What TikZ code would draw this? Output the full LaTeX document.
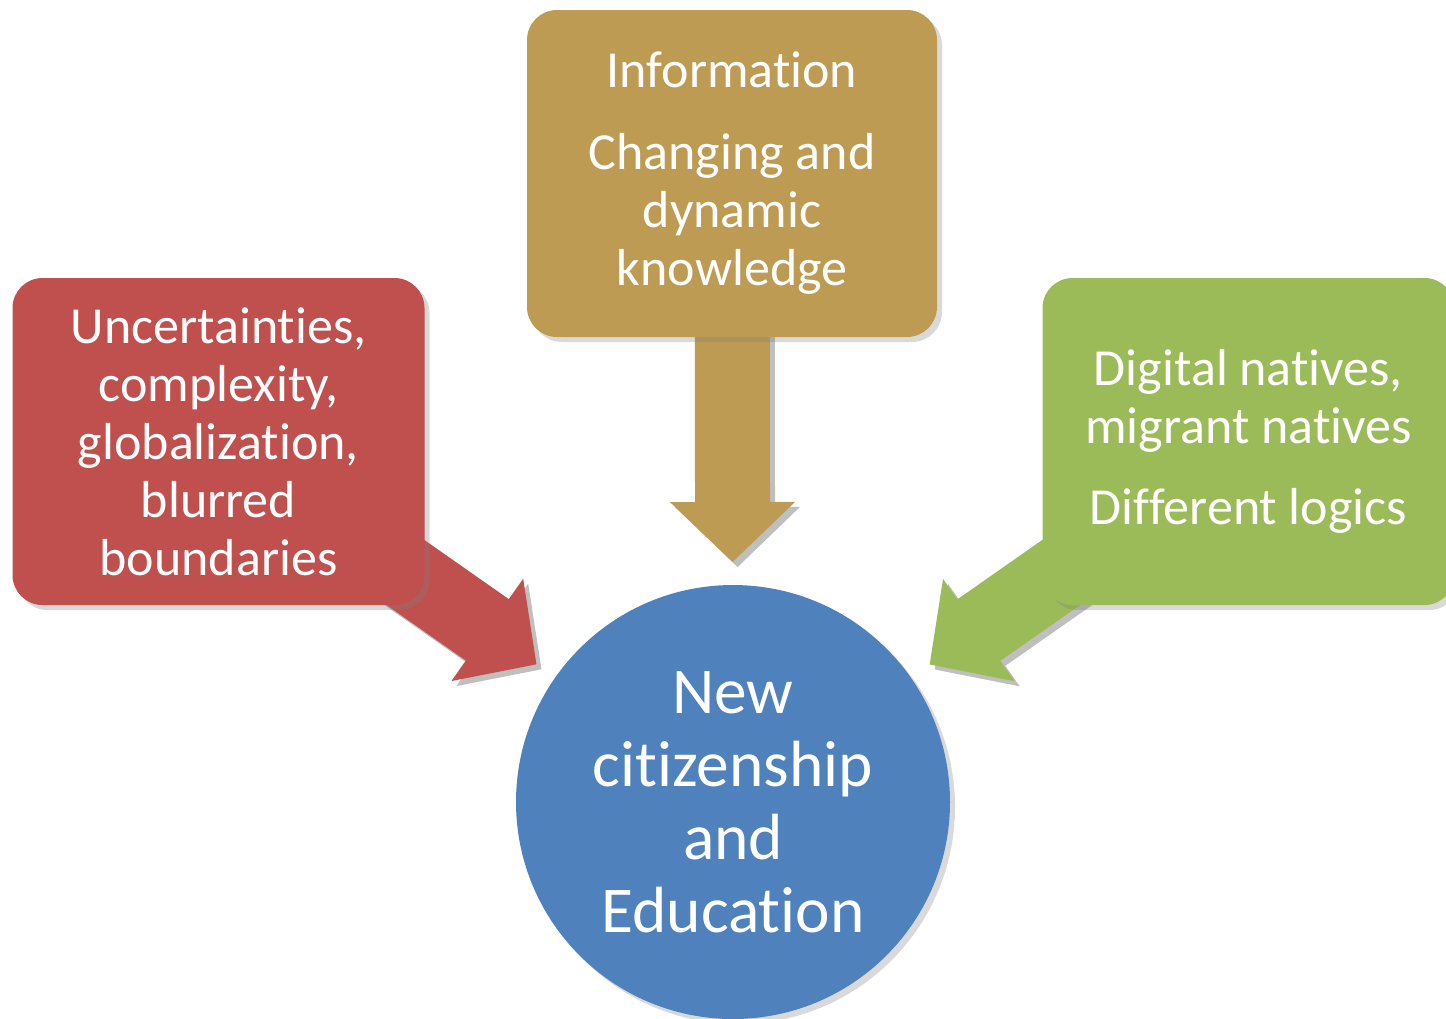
\documentclass[tikz,border=0pt]{standalone}
\usepackage{fontspec}
\setmainfont{Carlito}[RawFeature=-liga]
\usetikzlibrary{calc,shadows,backgrounds}

\definecolor{boxred}{HTML}{C0504D}
\definecolor{boxgold}{HTML}{BE9B53}
\definecolor{boxgreen}{HTML}{9BBB59}
\definecolor{hubblue}{HTML}{4F81BD}

\tikzset{
  topic/.style={rectangle, rounded corners=0.3cm, minimum width=4.12cm,
    minimum height=3.27cm, inner sep=0pt, text=white, align=center,
    font=\fontsize{14.8}{16.5}\selectfont,
    drop shadow={shadow xshift=0.05cm, shadow yshift=-0.05cm, opacity=0.3}},
  hub/.style={circle, minimum size=4.34cm, inner sep=0pt, text=white,
    align=center, font=\fontsize{18.6}{20.8}\selectfont,
    drop shadow={shadow xshift=0.05cm, shadow yshift=-0.05cm, opacity=0.3}},
  arrowshadow/.style={fill=black, opacity=0.25,
    transform canvas={xshift=0.05cm, yshift=-0.05cm}}
}

% block arrow: #1 start, #2 tip, #3 style
\newcommand{\blockarrow}[3]{%
  \coordinate (ba-base) at ($(#2)!0.6cm!(#1)$);
  \path[#3] ($(#1)!0.375cm!90:(#2)$) -- ($(ba-base)!0.375cm!-90:(#1)$)
    -- ($(ba-base)!0.625cm!-90:(#1)$) -- (#2)
    -- ($(ba-base)!0.625cm!90:(#1)$) -- ($(ba-base)!0.375cm!90:(#1)$)
    -- ($(#1)!0.375cm!-90:(#2)$) -- cycle;
}

\begin{document}
\begin{tikzpicture}
    \useasboundingbox (0,0) rectangle (14.46,-10.18);
    \clip (0,0) rectangle (14.46,-10.18);

    \node[topic, fill=boxgold, minimum width=4.10cm] (info) at (7.32,-1.735)
        {Information\\[0.24cm]Changing and\\dynamic\\knowledge};
    \node[topic, fill=boxred] (uncert) at (2.185,-4.415)
        {Uncertainties,\\complexity,\\globalization,\\blurred\\boundaries};
    \node[topic, fill=boxgreen] (natives) at (12.485,-4.415)
        {Digital natives,\\migrant natives\\[0.23cm]Different logics};
    \node[hub, fill=hubblue] (citizen) at (7.33,-8.02)
        {New\\citizenship\\and\\Education};

    \coordinate (tipinfo) at ($(citizen.center)!2.40cm!(info.center)$);
    \coordinate (tipuncert) at ($(citizen.center)!2.40cm!(uncert.center)$);
    \coordinate (tipnatives) at ($(citizen.center)!2.40cm!(natives.center)$);

    \begin{pgfonlayer}{background}
        \blockarrow{info.center}{tipinfo}{arrowshadow}
        \blockarrow{info.center}{tipinfo}{fill=boxgold}
        \blockarrow{uncert.center}{tipuncert}{arrowshadow}
        \blockarrow{uncert.center}{tipuncert}{fill=boxred}
        \blockarrow{natives.center}{tipnatives}{arrowshadow}
        \blockarrow{natives.center}{tipnatives}{fill=boxgreen}
    \end{pgfonlayer}
\end{tikzpicture}
\end{document}
